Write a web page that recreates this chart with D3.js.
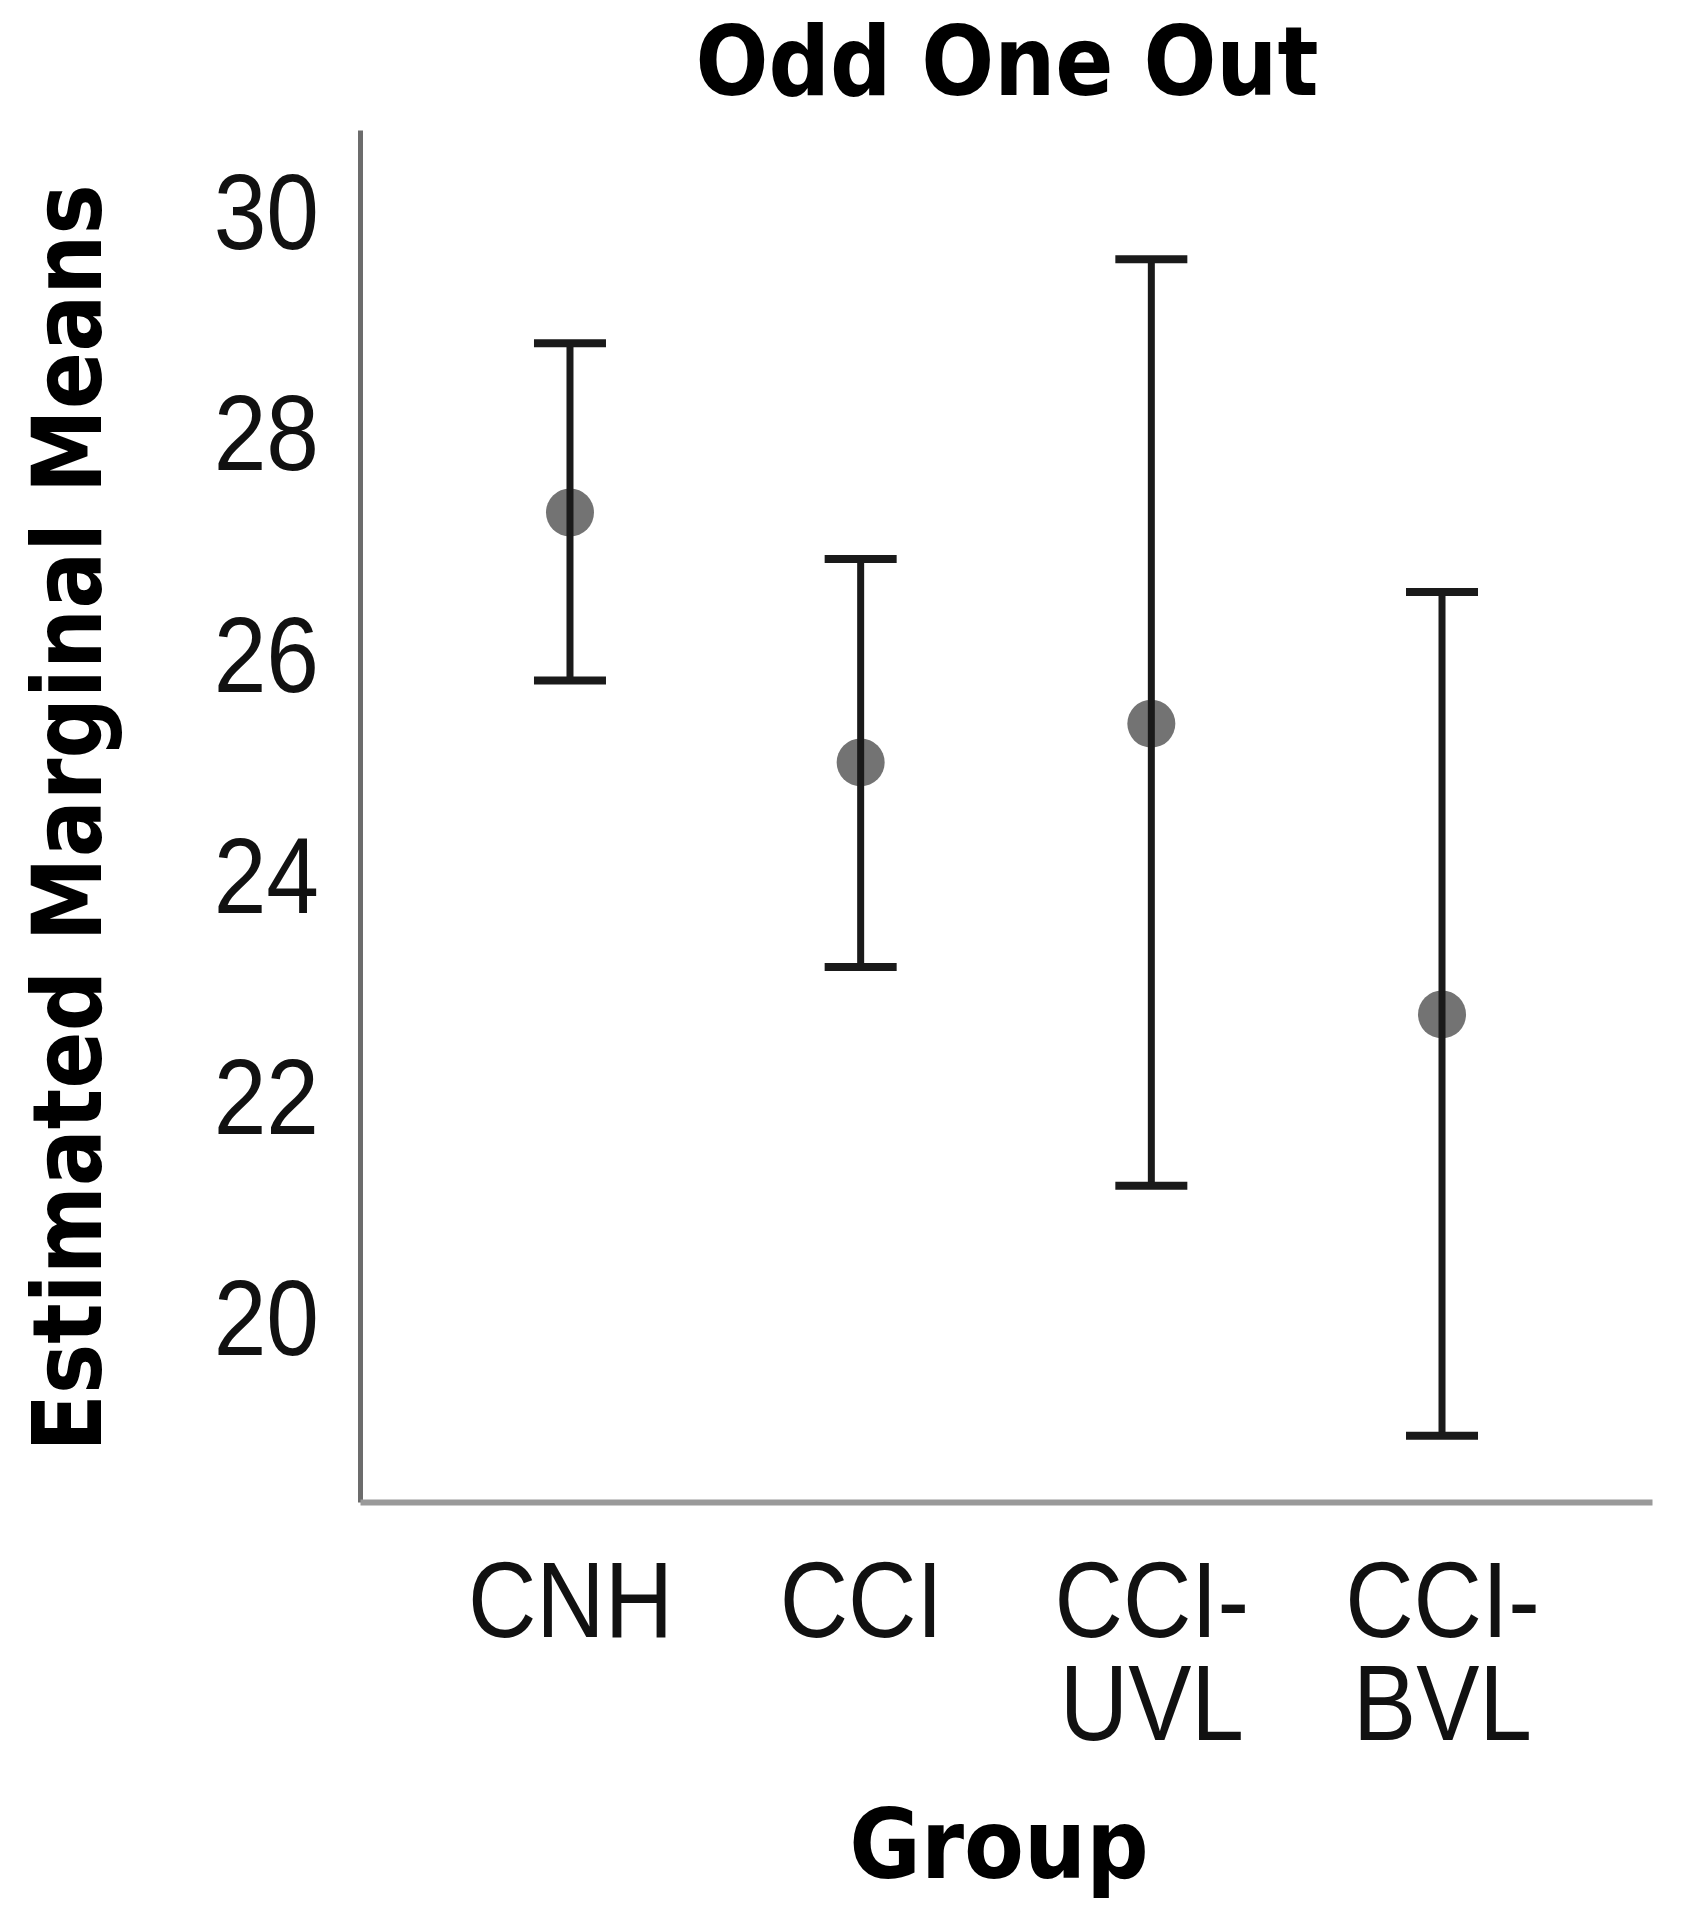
<!DOCTYPE html>
<html>
<head>
<meta charset="utf-8">
<script src="https://cdn.jsdelivr.net/npm/d3@7"></script>
<style>
  html, body { margin: 0; padding: 0; background: #ffffff; }
  svg { display: block; }
</style>
</head>
<body>
<svg id="chart" width="1683" height="1920"></svg>
<script>
// ---- data ----
const categories = ["CNH", "CCI", "CCI-UVL", "CCI-BVL"];
const categoryLines = [["CNH"], ["CCI"], ["CCI-", "UVL"], ["CCI-", "BVL"]];
const means = [27.28, 25.02, 25.37, 22.74];
const lowerCI = [25.76, 23.17, 21.19, 18.93];
const upperCI = [28.81, 26.86, 29.57, 26.56];
const yTicks = [20, 22, 24, 26, 28, 30];
const titleText = "Odd One Out";
const xTitle = "Group";
const yTitle = "Estimated Marginal Means";

// ---- layout ----
const svg = d3.select("#chart");
const axisLeftX = 360, axisRightX = 1652, axisTopY = 130, axisBottomY = 1502;

const x = d3.scalePoint()
  .domain(categories)
  .range([axisLeftX, axisRightX])
  .padding(0.7224);

const y = d3.scaleLinear()
  .domain([18.33, 30.74])
  .range([axisBottomY, axisTopY]);

const tickFont = "'Liberation Sans', Arial, sans-serif";
const boldFont = "'DejaVu Sans', Verdana, sans-serif";

// ---- y axis ----
const yAxisG = svg.append("g")
  .attr("transform", `translate(${axisLeftX},0)`)
  .call(d3.axisLeft(y).tickValues(yTicks).tickSize(0).tickFormat(""));
yAxisG.select(".domain").attr("stroke", "#6c6c6c").attr("stroke-width", 5);
yAxisG.selectAll(".tick").append("text")
  .attr("transform", "translate(-41,37) scale(0.885,1)")
  .attr("text-anchor", "end")
  .attr("fill", "#111")
  .style("font-family", tickFont)
  .style("font-size", "107px")
  .text(d => d);

// ---- x axis ----
const xAxisG = svg.append("g")
  .attr("transform", `translate(0,${axisBottomY})`)
  .call(d3.axisBottom(x).tickSize(0).tickFormat(""));
xAxisG.select(".domain").attr("stroke", "#9a9a9a").attr("stroke-width", 6);
const xt = xAxisG.selectAll(".tick").append("text")
  .attr("transform", "translate(0,135) scale(0.885,1)")
  .attr("text-anchor", "middle")
  .attr("fill", "#111")
  .style("font-family", tickFont)
  .style("font-size", "107px");
xt.each(function(d) {
  const lines = categoryLines[categories.indexOf(d)];
  const t = d3.select(this);
  lines.forEach((ln, i) => {
    t.append("tspan").attr("x", 0).attr("dy", i === 0 ? 0 : 103).text(ln);
  });
});

// ---- marks ----
const data = categories.map((c, i) => ({ c, m: means[i], lo: lowerCI[i], hi: upperCI[i] }));
const marks = svg.append("g");

marks.selectAll("circle").data(data).join("circle")
  .attr("cx", d => x(d.c))
  .attr("cy", d => y(d.m))
  .attr("r", 24)
  .attr("fill", "#737373");

marks.selectAll("line.whisker").data(data).join("line")
  .attr("class", "whisker")
  .attr("x1", d => x(d.c)).attr("x2", d => x(d.c))
  .attr("y1", d => y(d.hi)).attr("y2", d => y(d.lo))
  .attr("stroke", "#1a1a1a").attr("stroke-width", 7);

const capHalf = 36;
["hi", "lo"].forEach(k => {
  marks.selectAll("line.cap-" + k).data(data).join("line")
    .attr("class", "cap-" + k)
    .attr("x1", d => x(d.c) - capHalf).attr("x2", d => x(d.c) + capHalf)
    .attr("y1", d => y(d[k])).attr("y2", d => y(d[k]))
    .attr("stroke", "#1a1a1a").attr("stroke-width", 8);
});

// ---- titles ----
svg.append("text")
  .attr("transform", "translate(1007,95) scale(0.885,1)")
  .attr("text-anchor", "middle")
  .style("font-family", boldFont).style("font-weight", "bold").style("font-size", "97px")
  .attr("fill", "#000")
  .text(titleText);

svg.append("text")
  .attr("transform", "translate(999,1878) scale(0.9,1)")
  .attr("text-anchor", "middle")
  .style("font-family", boldFont).style("font-weight", "bold").style("font-size", "97px")
  .attr("fill", "#000")
  .text(xTitle);

svg.append("text")
  .attr("transform", "translate(101,818) rotate(-90) scale(0.881,1)")
  .attr("text-anchor", "middle")
  .style("font-family", boldFont).style("font-weight", "bold").style("font-size", "96px")
  .attr("fill", "#000")
  .text(yTitle);
</script>
</body>
</html>
